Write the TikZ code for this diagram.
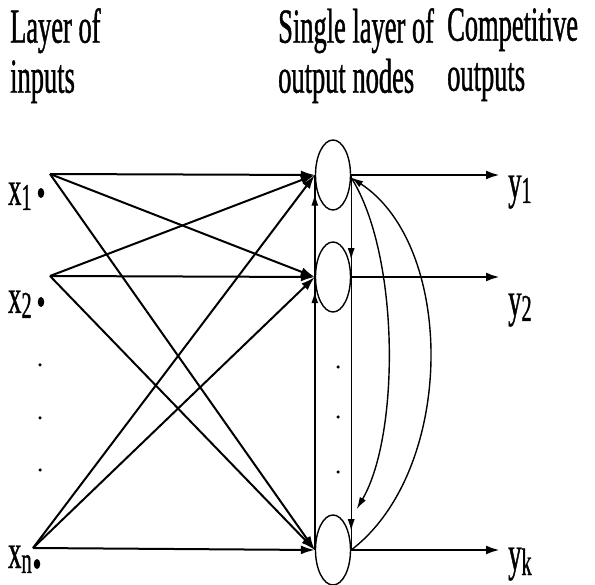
\documentclass[tikz,border=0pt]{standalone}
\usepackage{fontspec}
\setmainfont{Liberation Serif}
\newfontfamily\tallserif[FakeStretch=0.54, FakeBold=0.8]{Liberation Serif}
\usepackage{tikz}
\usetikzlibrary{
    shapes.geometric,
    arrows.meta,
    positioning,
    calc,
    decorations.markings
}
\newcommand{\lowidx}[1]{\raisebox{-5pt}{\fontsize{38}{38}\selectfont #1}}

\begin{document}
\begin{tikzpicture}[
        x=1pt, y=-1pt,
        neuron/.style={ellipse, draw, line width=1.4pt, minimum width=35pt, minimum height=70pt, inner sep=0pt},
        txt/.style={font=\tallserif\fontsize{49}{50}\selectfont, inner sep=0pt, align=left},
        inarrow/.style={-{Latex[length=14pt, width=9pt]}, line width=2pt},
        outarrow/.style={-{Latex[length=14pt, width=9pt]}, line width=2.6pt},
        link/.style={line width=1.4pt},
        feedback/.style={-{Latex[length=12pt, width=7pt]}, line width=1.4pt},
        upmarks/.style={postaction={decorate}, decoration={markings,
            mark=at position #1 with {\arrow{Latex[length=12pt, width=7pt]}},
            mark=at position 0.95 with {\arrow{Latex[length=12pt, width=7pt]}}}},
        dot/.style={circle, fill, inner sep=0pt, minimum size=3.5pt},
        bullet/.style={ellipse, fill, inner sep=0pt, minimum width=6.5pt, minimum height=10pt}
    ]
        \useasboundingbox (0,0) rectangle (595,585);

        % headers
        \node[txt, anchor=north west] (hdrin) at (10,8) {Layer of\\inputs};
        \node[txt, anchor=north west] (hdrmid) at (278,8) {Single layer of\\output nodes};
        \node[txt, anchor=north west] (hdrout) at (447,8) {Competitive\\outputs};

        % inputs
        \coordinate (in1) at (50,174);
        \coordinate (in2) at (50,276);
        \coordinate (inn) at (33,548);
        \node[bullet] (b1) at (41,193) {};
        \node[bullet] (b2) at (41,302) {};
        \node[bullet] (bn) at (37,564) {};
        \node[txt, anchor=base west] (x1) at (8,205) {x\lowidx{1}};
        \node[txt, anchor=base west] (x2) at (8,313) {x\lowidx{2}};
        \node[txt, anchor=base west] (xn) at (8,568) {x\lowidx{n}};
        \node[dot] (ldot1) at (40,365) {};
        \node[dot] (ldot2) at (40,418) {};
        \node[dot] (ldot3) at (40,470) {};

        % output layer
        \node[neuron] (out1) at (333,175) {};
        \node[neuron] (out2) at (333,277) {};
        \node[neuron] (outk) at (333,550) {};
        \node[dot] (mdot1) at (338,367) {};
        \node[dot] (mdot2) at (338,417) {};
        \node[dot] (mdot3) at (338,472) {};

        % outputs
        \coordinate (e1) at (500,175);
        \coordinate (e2) at (500,277);
        \coordinate (ek) at (500,550);
        \node[txt, anchor=base west] (y1) at (508,198) {y\lowidx{1}};
        \node[txt, anchor=base west] (y2) at (508,316) {y\lowidx{2}};
        \node[txt, anchor=base west] (yk) at (508,570) {y\lowidx{k}};

        \draw[inarrow] (in1) -- (out1.west);
        \draw[inarrow] (in1) -- (out2.west);
        \draw[inarrow] (in1) -- (outk.west);
        \draw[inarrow] (in2) -- (out1.west);
        \draw[inarrow] (in2) -- (out2.west);
        \draw[inarrow] (in2) -- (outk.west);
        \draw[inarrow] (inn) -- (out1.west);
        \draw[inarrow] (inn) -- (out2.west);
        \draw[inarrow] (inn) -- (outk.west);

        \draw[outarrow] (out1.east) -- (e1);
        \draw[outarrow] (out2.east) -- (e2);
        \draw[outarrow] (outk.east) -- (ek);

        % lateral links
        \draw[link, upmarks=0.69] (outk.west) -- (out1.west);
        \draw[link, upmarks=0.227] (out1.east) -- (outk.east);
        \draw[feedback, shorten >=20pt] (out1.-8) .. controls (400,255) and (400,435) .. (outk.60);
        \draw[feedback] (outk.east) .. controls (456,470) and (456,246) .. (out1.-8);
    \end{tikzpicture}
\end{document}
